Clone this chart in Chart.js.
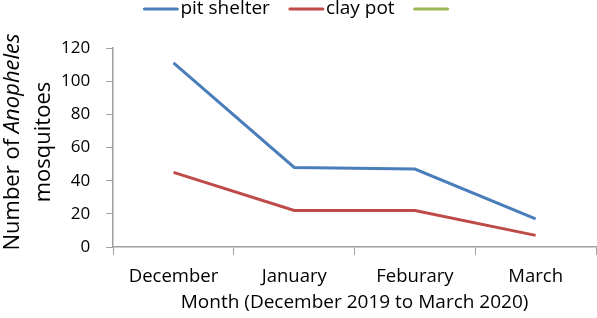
<!DOCTYPE html>
<html>
<head>
<meta charset="utf-8">
<script src="https://cdn.jsdelivr.net/npm/chart.js@4"></script>
<style>
  html, body { margin: 0; padding: 0; background: #fff; }
  #wrap { width: 597px; height: 318px; position: relative; }
</style>
</head>
<body>
<div id="wrap"><canvas id="chart"></canvas></div>
<script>
const months = ["December", "January", "Feburary", "March"];
const pitShelter = [111, 48, 47, 17];
const clayPot = [45, 22, 22, 7];
const yTicks = [0, 20, 40, 60, 80, 100, 120];

const FONT = "'Open Sans', sans-serif";
const axisGrey = "#A0A0A0";

// two-line y title, "Anopheles" in italics
const yTitlePlugin = {
  id: "yTitle",
  afterDraw: (chart) => {
    const { ctx } = chart;
    ctx.save();
    ctx.fillStyle = "#000";
    ctx.textBaseline = "middle";
    ctx.translate(13, 142);
    ctx.rotate(-Math.PI / 2);

    const normal = `22px ${FONT}`;
    const italic = `italic 22px ${FONT}`;
    ctx.font = normal;
    const part1 = "Number of ";
    const w1 = ctx.measureText(part1).width;
    ctx.font = italic;
    const w2 = ctx.measureText("Anopheles").width;
    const x = -(w1 + w2) / 2;
    ctx.font = normal;
    ctx.textAlign = "left";
    ctx.fillText(part1, x, 0);
    ctx.font = italic;
    ctx.fillText("Anopheles", x + w1, 0);

    ctx.font = normal;
    ctx.textAlign = "center";
    ctx.fillText("mosquitoes", 0, 31);
    ctx.restore();
  }
};

// legend drawn by hand so the text sits right next to the line sample
const legendPlugin = {
  id: "lineLegend",
  afterDraw: (chart) => {
    const { ctx } = chart;
    const lineLen = 35, gap = 2, itemGap = 19, y = 9;
    ctx.save();
    ctx.font = `19px ${FONT}`;
    const items = chart.data.datasets.map(ds => ({
      color: ds.borderColor,
      text: ds.label,
      w: lineLen + (ds.label ? gap + ctx.measureText(ds.label).width : 0)
    }));
    const total = items.reduce((s, it) => s + it.w, 0) + itemGap * (items.length - 1);
    let x = 296 - total / 2;
    ctx.textBaseline = "middle";
    ctx.textAlign = "left";
    items.forEach(it => {
      ctx.strokeStyle = it.color;
      ctx.lineWidth = 3;
      ctx.lineCap = "round";
      ctx.beginPath();
      ctx.moveTo(x + 1, y);
      ctx.lineTo(x + lineLen - 1, y);
      ctx.stroke();
      if (it.text) {
        ctx.fillStyle = "#000";
        ctx.fillText(it.text, x + lineLen + gap, y);
      }
      x += it.w + itemGap;
    });
    ctx.restore();
  }
};

new Chart(document.getElementById("chart"), {
  type: "line",
  data: {
    labels: months,
    datasets: [
      { label: "pit shelter", data: pitShelter, borderColor: "#4A7EBB", backgroundColor: "#4A7EBB", borderWidth: 3, pointRadius: 0, tension: 0 },
      { label: "clay pot", data: clayPot, borderColor: "#BE4B48", backgroundColor: "#BE4B48", borderWidth: 3, pointRadius: 0, tension: 0 },
      { label: "", data: [], borderColor: "#98B954", backgroundColor: "#98B954", borderWidth: 3, pointRadius: 0 }
    ]
  },
  options: {
    responsive: true,
    maintainAspectRatio: false,
    animation: false,
    layout: { padding: { left: 45, right: 1, top: 48, bottom: 4 } },
    scales: {
      x: {
        offset: true,
        grid: { offset: true, drawOnChartArea: false, color: axisGrey, tickLength: 8, lineWidth: 1 },
        border: { color: axisGrey, width: 1.5 },
        ticks: { color: "#000", font: { family: FONT, size: 18.5 }, padding: 11, maxRotation: 0 },
        title: { display: true, text: "Month (December 2019 to March 2020)", color: "#000", font: { family: FONT, size: 19 }, padding: { top: -8, bottom: 0 } }
      },
      y: {
        min: 0,
        max: 120,
        afterBuildTicks: (axis) => { axis.ticks = yTicks.map(v => ({ value: v })); },
        grid: { drawOnChartArea: false, color: axisGrey, tickLength: 7 },
        border: { color: axisGrey, width: 1.5 },
        ticks: { color: "#000", font: { family: FONT, size: 17 }, padding: 16 }
      }
    },
    plugins: {
      legend: { display: false },
      tooltip: { enabled: false }
    }
  },
  plugins: [yTitlePlugin, legendPlugin]
});
</script>
</body>
</html>
